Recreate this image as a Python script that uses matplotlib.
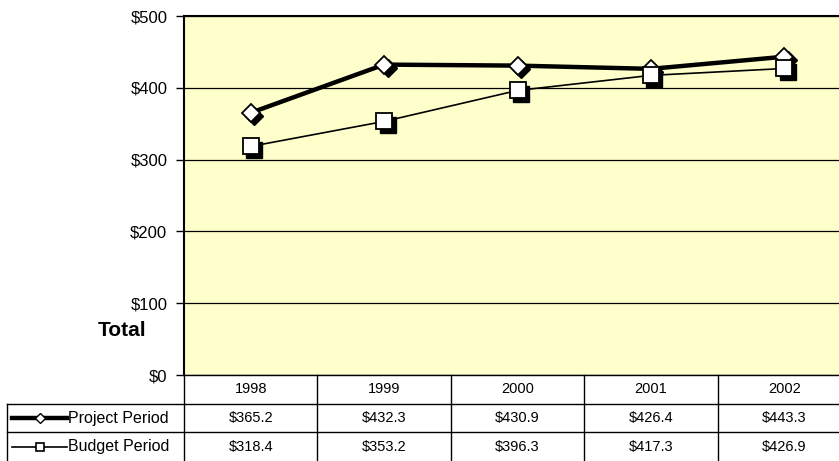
import matplotlib
matplotlib.use("Agg")
import matplotlib.pyplot as plt
from matplotlib.transforms import offset_copy

plt.rcParams['font.family'] = ['Liberation Sans', 'DejaVu Sans']

# data
years = ['1998', '1999', '2000', '2001', '2002']
project_period = [365.2, 432.3, 430.9, 426.4, 443.3]
budget_period = [318.4, 353.2, 396.3, 417.3, 426.9]
series_names = ['Project Period', 'Budget Period']
y_ticks = [0, 100, 200, 300, 400, 500]

W, H = 839, 461
fig = plt.figure(figsize=(W / 100, H / 100), dpi=100)

# plot area (runs a bit past the right edge, like the original)
left_px, right_px, top_px, bot_px = 184, 851, 16, 375
ax = fig.add_axes([left_px / W, (H - bot_px) / H, (right_px - left_px) / W, (bot_px - top_px) / H])
ax.set_facecolor('#FFFFCC')
x = list(range(len(years)))
ax.set_xlim(-0.5, len(years) - 0.5)
ax.set_ylim(0, 500)
ax.set_yticks(y_ticks)
ax.set_yticklabels(['$%d' % v for v in y_ticks], fontsize=12)
ax.set_xticks([])
ax.tick_params(axis='y', direction='out', length=6, width=1, pad=6)
ax.grid(axis='y', color='black', linewidth=0.9)
ax.set_axisbelow(True)
for s in ['top', 'left']:
    ax.spines[s].set_linewidth(1.5)
ax.spines['bottom'].set_linewidth(1.0)
ax.spines['right'].set_visible(False)

shadow = offset_copy(ax.transData, fig=fig, x=3.5, y=-3.5, units='dots')

ax.plot(x, project_period, color='black', linewidth=3.2, zorder=3)
ax.plot(x, budget_period, color='black', linewidth=1.2, zorder=3)
# marker shadows
ax.plot(x, project_period, linestyle='none', marker='D', markersize=9.5,
        color='black', transform=shadow, zorder=4)
ax.plot(x, budget_period, linestyle='none', marker='s', markersize=11.5,
        color='black', transform=shadow, zorder=4)
ax.plot(x, project_period, linestyle='none', marker='D', markersize=9.5,
        markerfacecolor='white', markeredgecolor='black', markeredgewidth=1.3, zorder=5)
ax.plot(x, budget_period, linestyle='none', marker='s', markersize=11.5,
        markerfacecolor='white', markeredgecolor='black', markeredgewidth=1.3, zorder=5)

fig.text(122 / W, 1 - 330 / H, 'Total', fontsize=15, fontweight='bold',
         ha='center', va='center')

# data table under the plot
tab = fig.add_axes([left_px / W, 0, (right_px - left_px) / W, (H - bot_px) / H])
tab.set_xlim(-0.5, len(years) - 0.5)
tab.set_ylim(3, 0)
tab.axis('off')
col_w = (right_px - left_px) / len(years)
lab_left = -0.5 - (left_px - 7) / col_w

for i in range(len(years) + 1):
    tab.plot([i - 0.5, i - 0.5], [0, 3], color='black', linewidth=1, clip_on=False)
for r in [1, 2]:
    tab.plot([lab_left, len(years) - 0.5], [r, r], color='black', linewidth=1, clip_on=False)
tab.plot([lab_left, lab_left], [1, 3], color='black', linewidth=1, clip_on=False)

for i, yr in enumerate(years):
    tab.text(i, 0.5, yr, ha='center', va='center', fontsize=10.5)
for r, vals in enumerate([project_period, budget_period], start=1):
    for i, v in enumerate(vals):
        tab.text(i, r + 0.5, '$%.1f' % v, ha='center', va='center', fontsize=10.5)

def px(p):
    return (p - left_px) / col_w - 0.5

tab.plot([px(12), px(67)], [1.5, 1.5], color='black', linewidth=3.2, clip_on=False)
tab.plot([px(40)], [1.5], marker='D', markersize=5, markerfacecolor='white',
         markeredgecolor='black', markeredgewidth=1, clip_on=False)
tab.plot([px(12), px(67)], [2.5, 2.5], color='black', linewidth=1.2, clip_on=False)
tab.plot([px(40)], [2.5], marker='s', markersize=6, markerfacecolor='white',
         markeredgecolor='black', markeredgewidth=1.2, clip_on=False)
for r, name in enumerate(series_names, start=1):
    tab.text(px(68), r + 0.5, name, ha='left', va='center', fontsize=11.5, clip_on=False)

fig.savefig('out.png', dpi=100)
